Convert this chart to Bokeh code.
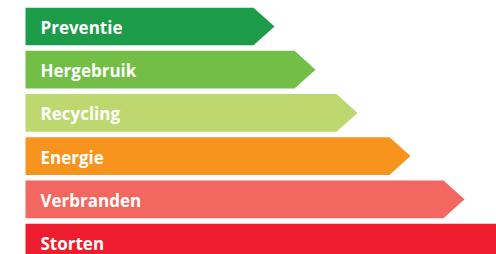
from bokeh.plotting import figure
from bokeh.models import Range1d, ColumnDataSource
from bokeh.core.properties import value
from bokeh.embed import file_html
from bokeh.resources import INLINE

categories = ["Preventie", "Hergebruik", "Recycling", "Energie", "Verbranden", "Storten"]
lengths = [228, 269, 311, 364, 418, 480]
colors = ["#1c9c48", "#72be46", "#bdd86e", "#f7941e", "#f26860", "#ed1c2e"]

tip = 21
half = 0.436

xs, ys, ty = [], [], []
for i, L in enumerate(lengths):
    xs.append([0, L, L + tip, L, 0])
    ys.append([i - half, i - half, i, i + half, i + half])
    ty.append(i)

src = ColumnDataSource(dict(xs=xs, ys=ys, color=colors))
tsrc = ColumnDataSource(dict(x=[15] * len(categories), y=ty, text=categories))

p = figure(width=496, height=254, output_backend="svg", toolbar_location=None,
           x_range=Range1d(-25, 471), y_range=Range1d(5.2778, -0.6019),
           min_border=0)
p.axis.visible = False
p.grid.visible = False
p.outline_line_color = None
p.background_fill_color = "white"
p.border_fill_color = "white"

p.patches("xs", "ys", fill_color="color", line_color=None, source=src)
p.text("x", "y", text="text", source=tsrc, text_color="white",
       text_font=value("Open Sans"), text_font_style="bold", text_font_size="17px",
       text_baseline="middle", text_align="left", y_offset=1)

open("out.html", "w").write(file_html(p, INLINE))
